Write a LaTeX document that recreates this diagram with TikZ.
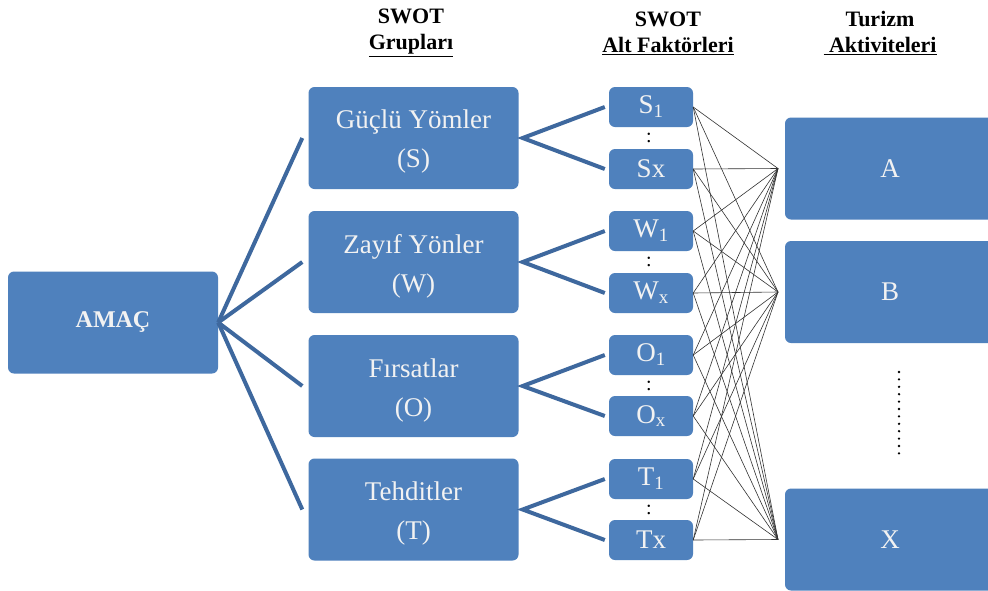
\documentclass[tikz,border=0pt]{standalone}
\usepackage{fontspec}
\setmainfont{Liberation Serif}
\definecolor{boxblue}{RGB}{79,129,189}
\definecolor{linkblue}{RGB}{62,104,158}
\definecolor{thinline}{RGB}{50,50,50}
\definecolor{boxtext}{RGB}{242,242,242}
\begin{document}
\begin{tikzpicture}[x=1pt,y=-1pt,
  box/.style={fill=boxblue, draw=none, rounded corners=6pt, text=boxtext, align=center, inner sep=0pt},
  bigbox/.style={box, minimum width=210, minimum height=102, font=\fontsize{27}{39}\selectfont},
  grouptext/.style={text=boxtext, align=center, inner sep=0pt, font=\fontsize{27}{39}\selectfont},
  smallbox/.style={box, minimum width=84, minimum height=40, font=\fontsize{27}{29}\selectfont},
  header/.style={align=center, font=\bfseries\fontsize{22}{26}\selectfont},
  colon/.style={font=\fontsize{20}{20}\selectfont, inner sep=0pt},
  thick link/.style={draw=linkblue, line width=4pt},
  thin link/.style={draw=thinline, line width=0.6pt}]
\useasboundingbox (0,0) rectangle (988,590);
\fill[white] (0,0) rectangle (988,590);

% headers
\node[header] (h1) at (411,33) {SWOT\\\underline{Grupları}};
\node[header] (h2) at (668,33) {SWOT\\\underline{Alt Faktörleri}};
\node[header] (h3) at (880,33) {Turizm\\\underline{\ Aktiviteleri}};

% goal
\node[bigbox, font=\bfseries\fontsize{24}{26}\selectfont] (amac) at (113,322.5) {AMAÇ};

% SWOT groups
\node[bigbox] (gs) at (413.5,138) {};
\node[bigbox] (gw) at (413.5,262) {};
\node[bigbox] (go) at (413.5,386) {};
\node[bigbox] (gt) at (413.5,509.5) {};
\node[grouptext] (gsl) at ([yshift=-4pt]gs.center) {Güçlü Yömler\\(S)};
\node[grouptext] (gwl) at ([yshift=-4pt]gw.center) {Zayıf Yönler\\(W)};
\node[grouptext] (gol) at ([yshift=-4pt]go.center) {Fırsatlar\\(O)};
\node[grouptext] (gtl) at ([yshift=-4pt]gt.center) {Tehditler\\(T)};

% sub factors
\node[smallbox] (s1) at (651,107) {S\textsubscript{1}};
\node[smallbox] (sx) at (651,169) {Sx};
\node[smallbox] (w1) at (651,231) {W\textsubscript{1}};
\node[smallbox] (wx) at (651,293) {W\textsubscript{x}};
\node[smallbox] (o1) at (651,355) {O\textsubscript{1}};
\node[smallbox] (ox) at (651,416) {O\textsubscript{x}};
\node[smallbox] (t1) at (651,479) {T\textsubscript{1}};
\node[smallbox] (tx) at (651,540) {Tx};
\node[colon] (c1) at (649,138) {:};
\node[colon] (c2) at (649,262) {:};
\node[colon] (c3) at (649,385.5) {:};
\node[colon] (c4) at (649,509.5) {:};

% activities
\node[bigbox] (ra) at (890,168.5) {A};
\node[bigbox] (rb) at (890,292) {B};
\node[bigbox] (rx) at (890,539.5) {X};
\foreach \i in {0,...,11} \fill (899,372+\i*7.4) circle (1.3);

% thick connectors
\foreach \g in {gs,gw,go,gt}{
  \draw[thick link] (amac.east) -- ([xshift=-6pt]\g.west);
}
\foreach \g/\a/\b in {gs/s1/sx, gw/w1/wx, go/o1/ox, gt/t1/tx}{
  \draw[thick link] ([xshift=-4pt]\a.west) -- ([xshift=4pt]\g.east) -- ([xshift=-4pt]\b.west);
}

% thin connectors
\coordinate (pa) at (778,168.5);
\coordinate (pb) at (778,292);
\coordinate (px) at (778,539.5);
\foreach \s in {s1,sx,w1,wx,o1,ox,t1,tx}{
  \foreach \p in {pa,pb,px}{
    \draw[thin link] (\s.east) -- (\p);
  }
}
\end{tikzpicture}
\end{document}
